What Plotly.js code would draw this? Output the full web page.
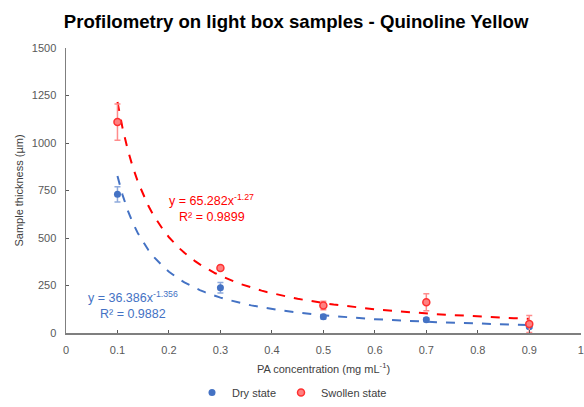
<!DOCTYPE html>
<html><head><meta charset="utf-8">
<script src="https://cdn.plot.ly/plotly-3.0.1.min.js"></script>
<style>html,body{margin:0;padding:0;background:#fff}#c{width:584px;height:407px}</style>
</head><body><div id="c"></div>
<script>
const concentration = [0.1, 0.3, 0.5, 0.7, 0.9];
const dryThickness = [730, 238, 86, 70, 33];
const dryError = [40, 28, 12, 10, 8];
const swollenThickness = [1110, 342, 145, 162, 47];
const swollenError = [95, 12, 22, 45, 45];
const dryFit = {a: 36.386, b: -1.356};
const swollenFit = {a: 65.282, b: -1.27};
const fitX = [];
for (let i = 0; i <= 80; i++) fitX.push(0.1 + i * 0.01);
const xTicks = [0, 0.1, 0.2, 0.3, 0.4, 0.5, 0.6, 0.7, 0.8, 0.9, 1];
const xTickText = ['0', '0.1', '0.2', '0.3', '0.4', '0.5', '0.6', '0.7', '0.8', '0.9', '1'];
const yTicks = [0, 250, 500, 750, 1000, 1250, 1500];

const blue = '#4472C4', red = '#FF0000';
const traces = [
  {x: fitX, y: fitX.map(v => dryFit.a * Math.pow(v, dryFit.b)), mode: 'lines',
   line: {color: blue, dash: 'dash', width: 2}, showlegend: false, hoverinfo: 'skip'},
  {x: fitX, y: fitX.map(v => swollenFit.a * Math.pow(v, swollenFit.b)), mode: 'lines',
   line: {color: red, dash: 'dash', width: 2}, showlegend: false, hoverinfo: 'skip'},
  {x: concentration, y: dryThickness, name: 'Dry state', mode: 'markers',
   marker: {color: blue, size: 7},
   error_y: {type: 'data', array: dryError, color: '#8FAADC', thickness: 1.5, width: 3}},
  {x: concentration, y: swollenThickness, name: 'Swollen state', mode: 'markers',
   marker: {color: '#FF8080', size: 7, line: {color: '#FF3030', width: 1.5}},
   error_y: {type: 'data', array: swollenError, color: '#FF8C8C', thickness: 1.5, width: 3}}
];
const layout = {
  width: 584, height: 407,
  margin: {l: 66, r: 3, t: 48, b: 74},
  paper_bgcolor: '#fff', plot_bgcolor: '#fff',
  font: {family: 'Liberation Sans, Arial, sans-serif', color: '#595959', size: 11},
  title: {text: '<b>Profilometry on light box samples - Quinoline Yellow</b>',
    font: {family: 'Liberation Sans, Arial, sans-serif', size: 18.6, color: '#000'},
    x: 0.507, xanchor: 'center', y: 0.948, yanchor: 'middle', yref: 'container'},
  xaxis: {range: [0, 1.0005], tickvals: xTicks, ticktext: xTickText, showgrid: false, zeroline: false,
    showline: true, linecolor: '#7F7F7F', linewidth: 1.5, ticks: 'inside', ticklen: 3, tickcolor: '#595959',
    automargin: false, ticklabelstandoff: 6, ticklabeloverflow: 'allow',
    title: {text: 'PA concentration (mg mL<sup>-1</sup>)', font: {size: 11, color: '#404040'}, standoff: 10}},
  yaxis: {range: [0, 1500], tickvals: yTicks, showgrid: false, zeroline: false,
    showline: true, linecolor: '#7F7F7F', linewidth: 1.5, ticks: 'inside', ticklen: 3, tickcolor: '#595959',
    automargin: false, ticklabelstandoff: 6,
    title: {text: 'Sample thickness (µm)', font: {size: 11, color: '#404040'}, standoff: 6}},
  legend: {orientation: 'h', x: 0.5, xanchor: 'center', xref: 'container', y: 0.0, yanchor: 'bottom', yref: 'container',
    font: {size: 11, color: '#404040'}, itemwidth: 30, tracegroupgap: 0},
  annotations: [
    {x: 0.283, y: 655, xref: 'x', yref: 'y', showarrow: false, yanchor: 'bottom', borderpad: 0,
     text: 'y = 65.282x<sup>-1.27</sup>', font: {color: red, size: 12.5}},
    {x: 0.283, y: 655, xref: 'x', yref: 'y', showarrow: false, yanchor: 'top', borderpad: 0,
     text: 'R² = 0.9899', font: {color: red, size: 12.5}},
    {x: 0.131, y: 142, xref: 'x', yref: 'y', showarrow: false, yanchor: 'bottom', borderpad: 0,
     text: 'y = 36.386x<sup>-1.356</sup>', font: {color: blue, size: 12.5}},
    {x: 0.13, y: 142, xref: 'x', yref: 'y', showarrow: false, yanchor: 'top', borderpad: 0,
     text: 'R² = 0.9882', font: {color: blue, size: 12.5}}
  ]
};
Plotly.newPlot('c', traces, layout, {displayModeBar: false, staticPlot: true});
</script></body></html>
